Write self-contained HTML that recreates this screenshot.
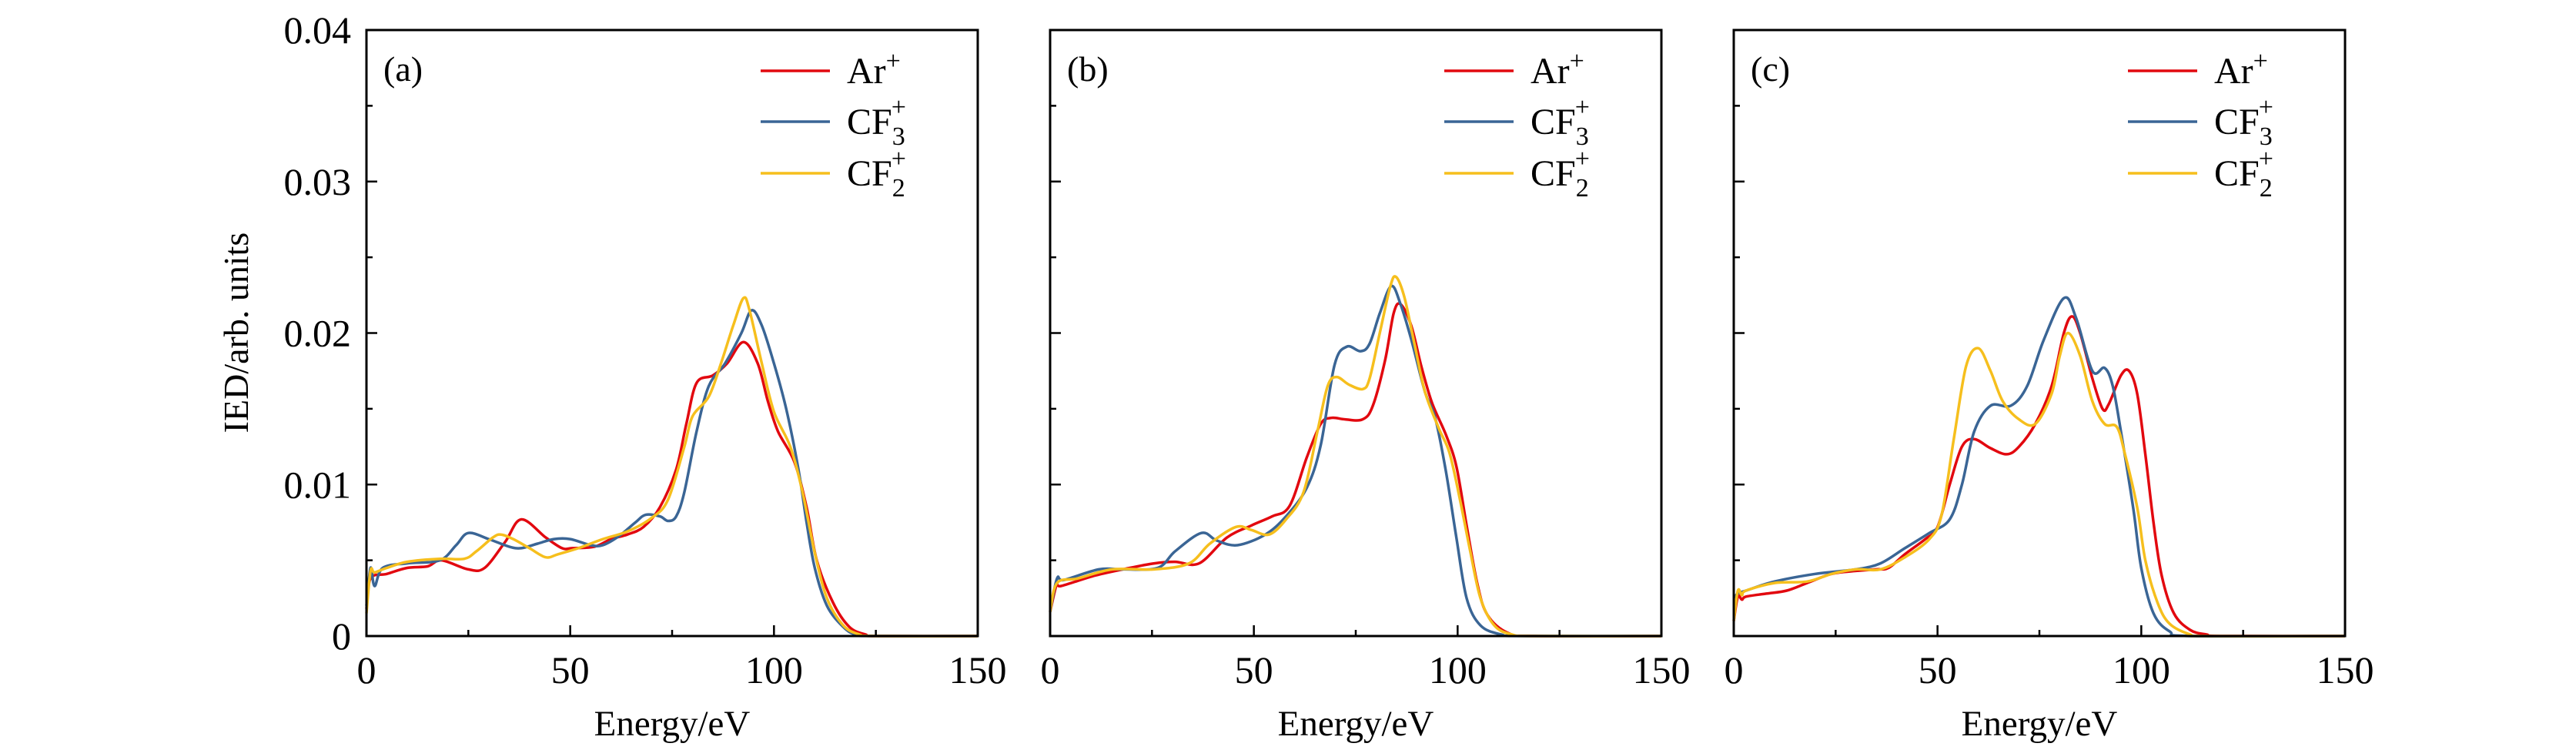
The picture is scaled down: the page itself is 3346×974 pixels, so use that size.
<!DOCTYPE html>
<html><head><meta charset="utf-8"><style>
html,body{margin:0;padding:0;background:#fff;}
svg{display:block;font-family:"Liberation Serif",serif;}
</style></head><body>
<svg id="chart" width="3346" height="974" viewBox="0 0 3346 974" xmlns="http://www.w3.org/2000/svg"></svg>
<script>
const xTicks=[0,50,100,150];
const yTicks=[0,0.01,0.02,0.03,0.04];
const yTickLabels=["0","0.01","0.02","0.03","0.04"];
const panelLabels=["(a)","(b)","(c)"];
const seriesNames=["Ar","CF3","CF2"];
// panel a
const aArE=[0,1,5,10,15,18.4,25,29,34,38,44,48,50.5,56,60,64,68,72,76,78.5,81,85,88.5,92.5,96,98.5,101,105,108,110.5,114.5,118.5,122.5,125,150];
const aArV=[0.0018,0.0038,0.0041,0.0045,0.0046,0.0050,0.0044,0.0045,0.0062,0.0077,0.0065,0.0058,0.0058,0.0059,0.0064,0.0067,0.0072,0.0085,0.011,0.014,0.0167,0.0172,0.0180,0.0194,0.0180,0.0155,0.0135,0.0115,0.0085,0.005,0.0022,0.0006,0.0001,0,0];
const aCF3E=[0,1,2,4,10,18,22,25,30,35,38,42,46,50,55,58,62,66,68.5,72,74,76,78,81,84,88,92,94.5,97,100,103,106,108,110,113,117,120,124,150];
const aCF3V=[0.002,0.0045,0.0033,0.0045,0.0048,0.0050,0.006,0.0068,0.0064,0.0059,0.0058,0.0061,0.0064,0.0064,0.006,0.0060,0.0066,0.0075,0.008,0.0079,0.0076,0.0079,0.0095,0.0135,0.0165,0.0180,0.0200,0.0215,0.0205,0.018,0.015,0.011,0.0075,0.0045,0.002,0.0006,0.0001,0,0];
const aCF2E=[0,1,2,5,10,18,24,27,31,33,36,40,44,47,52,58,64,70,74,78,80,84,87,90,92.5,94,97,100,104,107,110,113,117,121,125,150];
const aCF2V=[0.0015,0.0043,0.0042,0.0045,0.0049,0.0051,0.0051,0.0056,0.0065,0.0067,0.0064,0.0058,0.0052,0.0054,0.0058,0.0064,0.0069,0.0078,0.009,0.0125,0.0145,0.0158,0.018,0.0205,0.0223,0.0215,0.018,0.0148,0.0125,0.0095,0.0055,0.0025,0.0007,0.0001,0,0];
// panel b
const bArE=[0,1.7,2.6,11.1,19.6,25.6,30.7,36.6,43.4,49.4,54.5,58.8,63,66.4,69,72.4,76.7,79.2,82.2,84.3,86,88.6,91.1,93.7,97.1,99.7,102.2,104.8,107.3,112.4,119,150];
const bArV=[0.0016,0.0035,0.0033,0.0040,0.0045,0.0048,0.0049,0.0048,0.0065,0.0073,0.0079,0.0086,0.0118,0.0140,0.0144,0.0143,0.0143,0.0152,0.0182,0.0213,0.0219,0.0205,0.0178,0.0154,0.0133,0.0112,0.0073,0.0035,0.0014,0.0002,0,0];
const bCF3E=[0,1.7,3.4,12,17.9,26.4,30.7,37.1,40.9,46,52.8,57.9,63,66.4,69.8,72.8,76.2,78.4,80.9,83.7,86,88.6,92,94.5,97.1,99.7,102.2,105.6,110.7,116,150];
const bCF3V=[0.0016,0.0038,0.0037,0.0044,0.0044,0.0045,0.0056,0.0068,0.0063,0.0060,0.0067,0.0079,0.0098,0.0126,0.0179,0.0191,0.0188,0.0193,0.0213,0.0231,0.0219,0.0196,0.0161,0.0144,0.0109,0.0065,0.0025,0.0007,0.0001,0,0];
const bCF2E=[0,1.7,6.8,15.3,25.6,34.1,39.2,45.6,49.4,53.7,57.9,62.2,65.6,68.1,70.3,73.3,76.7,78.4,80.9,83.5,84.9,86.9,89.4,92,95.4,98,100.5,103.1,105.6,109,113.3,119,150];
const bCF2V=[0.0016,0.0035,0.0038,0.0044,0.0044,0.0048,0.0061,0.0072,0.0070,0.0067,0.0077,0.0095,0.0135,0.0165,0.0171,0.0166,0.0163,0.0170,0.0200,0.0231,0.0237,0.0224,0.0193,0.0161,0.0137,0.0121,0.0091,0.0056,0.0025,0.0007,0.0001,0,0];
// panel c
const cArE=[0,1,2,3,8,13,18,24,30,35,38,42,47,50,53,56,59,63,67,70,74,78,81,83,85,88,90.5,92,95,97,99,101,103,105,108,112,116,120,150];
const cArV=[0.001,0.0026,0.0024,0.0026,0.0028,0.003,0.0035,0.0041,0.0043,0.0044,0.0045,0.0054,0.0064,0.0072,0.010,0.0125,0.0130,0.0124,0.0120,0.0125,0.0140,0.0165,0.0200,0.0211,0.020,0.0170,0.0150,0.0153,0.0172,0.0175,0.0160,0.012,0.0075,0.004,0.0015,0.0004,0.0001,0,0];
const cCF3E=[0,1,3,10,20,30,36,42,48,53,56,59,63,68,72,76,81,84,88,91,93,95,98,100,103,107,112,150];
const cCF3V=[0.0025,0.0028,0.0030,0.0036,0.0041,0.0044,0.0048,0.0058,0.0068,0.0077,0.0100,0.0135,0.0152,0.0152,0.0165,0.0195,0.0223,0.0210,0.0175,0.0177,0.0165,0.0135,0.0085,0.0045,0.0015,0.0003,0,0];
const cCF2E=[0,1,2,3,10,18,24,30,36,42,48,51,54,57,60,63,66,70,74,78,80,82,85,88,91,94,96,99,101,104,107,112,116,150];
const cCF2V=[0.001,0.0030,0.0027,0.0030,0.0035,0.0036,0.0041,0.0044,0.0044,0.0052,0.0064,0.0080,0.0130,0.0178,0.0190,0.0175,0.0155,0.0143,0.0140,0.016,0.0185,0.0200,0.0185,0.0155,0.0140,0.0138,0.0120,0.0085,0.005,0.0022,0.0008,0.0001,0,0];

const panels=[
 {left:476,right:1270,series:[[aArE,aArV],[aCF3E,aCF3V],[aCF2E,aCF2V]]},
 {left:1364,right:2158,series:[[bArE,bArV],[bCF3E,bCF3V],[bCF2E,bCF2V]]},
 {left:2252,right:3046,series:[[cArE,cArV],[cCF3E,cCF3V],[cCF2E,cCF2V]]}
];
const colors=["#e2080f","#3a6595","#f6bf1d"];
const TOP=39,BOT=826;
const svg=document.getElementById('chart');
const NS="http://www.w3.org/2000/svg";
function mk(tag,attrs,parent){const e=document.createElementNS(NS,tag);for(const k in attrs)e.setAttribute(k,attrs[k]);(parent||svg).appendChild(e);return e;}
function yScale(v){return BOT-(v/0.04)*(BOT-TOP);}
function smoothPath(pts){
 let d="M"+pts[0][0].toFixed(1)+","+pts[0][1].toFixed(1);
 for(let i=0;i<pts.length-1;i++){
  const p0=pts[Math.max(0,i-1)],p1=pts[i],p2=pts[i+1],p3=pts[Math.min(pts.length-1,i+2)];
  const c1=[p1[0]+(p2[0]-p0[0])/6,p1[1]+(p2[1]-p0[1])/6];
  const c2=[p2[0]-(p3[0]-p1[0])/6,p2[1]-(p3[1]-p1[1])/6];
  d+="C"+c1[0].toFixed(1)+","+c1[1].toFixed(1)+" "+c2[0].toFixed(1)+","+c2[1].toFixed(1)+" "+p2[0].toFixed(1)+","+p2[1].toFixed(1);
 }
 return d;
}
panels.forEach((p,pi)=>{
 const xScale=e=>p.left+(e/150)*(p.right-p.left);
 const g=mk('g',{});
 
 
 p.series.forEach((s,si)=>{
  const pts=s[0].map((e,i)=>[xScale(e),yScale(s[1][i])]);
  const path=mk('path',{d:smoothPath(pts),fill:'none',stroke:colors[si],'stroke-width':3.5,'stroke-linejoin':'round'},g);
  
  
 });
 for(let e=0;e<=150;e+=25){
  const x=xScale(e);const len=(e%50===0)?14:8;
  mk('line',{x1:x,y1:BOT,x2:x,y2:BOT-len,stroke:'#000','stroke-width':2.5},g);
 }
 for(let v=0;v<=0.0401;v+=0.005){
  const y=yScale(v);const len=(Math.round(v*1000)%10===0)?14:8;
  mk('line',{x1:p.left,y1:y,x2:p.left+len,y2:y,stroke:'#000','stroke-width':2.5},g);
 }
 const frame=mk('rect',{x:p.left,y:TOP,width:p.right-p.left,height:BOT-TOP,fill:'none',stroke:'#000','stroke-width':3},g);
 
 
 xTicks.forEach(t=>{
  const tx=mk('text',{x:xScale(t),y:887,'font-size':50,'text-anchor':'middle'},g);
  tx.textContent=t;
  
  
 });
 const xt=mk('text',{x:(p.left+p.right)/2,y:955,'font-size':47,'text-anchor':'middle'},g);
 xt.textContent="Energy/eV";
 
 
 const pl=mk('text',{x:p.left+22,y:105,'font-size':46},g);
 pl.textContent=panelLabels[pi];
 
 
 const lx=p.right-282;
 const rows=[108,174,241];
 rows.forEach((ry,ri)=>{
  const lg=mk('g',{},g);
  
  
  mk('line',{x1:lx,y1:ry-16,x2:lx+90,y2:ry-16,stroke:colors[ri],'stroke-width':3.5},lg);
  const t=mk('text',{x:lx+112,y:ry,'font-size':48},lg);
  if(ri===0){t.innerHTML='Ar<tspan dy="-18" font-size="34">+</tspan>';}
  else{const n=ri===1?'3':'2';t.innerHTML='CF<tspan dy="14" font-size="34">'+n+'</tspan><tspan dx="-18" dy="-38" font-size="34">+</tspan>';}
 });
});
yTicks.forEach((v,i)=>{
 const t=mk('text',{x:456,y:yScale(v)+17,'font-size':50,'text-anchor':'end'});
 t.textContent=yTickLabels[i];
 
 
});
const yt=mk('text',{x:0,y:0,'font-size':46,'text-anchor':'middle',transform:'translate(322,432) rotate(-90)'});
yt.textContent="IED/arb. units";


</script>
</body></html>
